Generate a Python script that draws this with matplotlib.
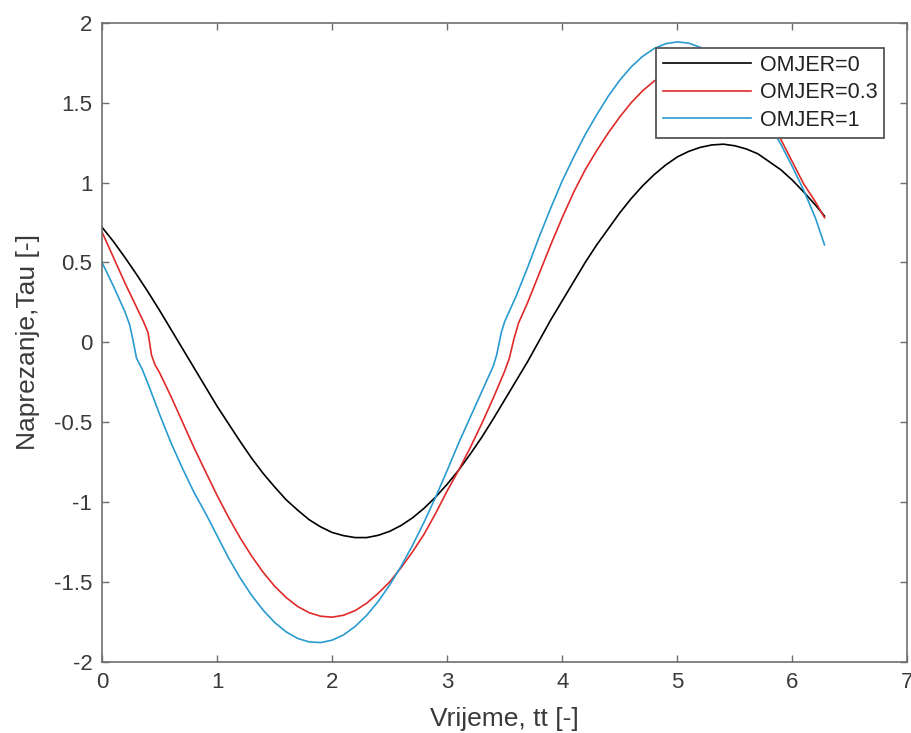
import numpy as np
import matplotlib
matplotlib.use("Agg")
import matplotlib.pyplot as plt

plt.rcParams['font.family'] = ['Liberation Sans', 'DejaVu Sans']

# OMJER=0 (black)
x0 = [0.0, 0.1, 0.2, 0.3, 0.4, 0.5, 0.6, 0.7, 0.8, 0.9, 1.0, 1.1, 1.2, 1.3, 1.4, 1.5,
      1.6, 1.7, 1.8, 1.9, 2.0, 2.1, 2.2, 2.3, 2.4, 2.5, 2.6, 2.7, 2.8, 2.9, 3.0, 3.1,
      3.2, 3.3, 3.4, 3.5, 3.6, 3.7, 3.8, 3.9, 4.0, 4.1, 4.2, 4.3, 4.4, 4.5, 4.6, 4.7,
      4.8, 4.9, 5.0, 5.1, 5.2, 5.3, 5.4, 5.5, 5.6, 5.7, 5.8, 5.9, 6.0, 6.1, 6.2, 6.28]
y0 = [0.72, 0.63, 0.53, 0.425, 0.315, 0.20, 0.08, -0.04, -0.16, -0.28, -0.40, -0.51,
      -0.62, -0.725, -0.82, -0.905, -0.985, -1.05, -1.11, -1.155, -1.19, -1.21, -1.222,
      -1.222, -1.208, -1.183, -1.146, -1.098, -1.038, -0.968, -0.888, -0.80, -0.70,
      -0.595, -0.48, -0.36, -0.24, -0.12, 0.01, 0.14, 0.26, 0.38, 0.50, 0.61, 0.71,
      0.81, 0.90, 0.98, 1.05, 1.11, 1.16, 1.195, 1.22, 1.235, 1.24, 1.23, 1.21, 1.18,
      1.13, 1.08, 1.015, 0.94, 0.86, 0.79]

# OMJER=0.3 (red)
x03 = [0.0, 0.1, 0.2, 0.3, 0.36, 0.40, 0.43, 0.46, 0.5, 0.6, 0.7, 0.8, 0.9, 1.0, 1.1,
       1.2, 1.3, 1.4, 1.5, 1.6, 1.7, 1.8, 1.9, 2.0, 2.1, 2.2, 2.3, 2.4, 2.5, 2.6, 2.7,
       2.8, 2.9, 3.0, 3.1, 3.2, 3.3, 3.4, 3.5, 3.54, 3.58, 3.62, 3.7, 3.8, 3.9, 4.0,
       4.1, 4.2, 4.3, 4.4, 4.5, 4.6, 4.7, 4.8, 4.9, 5.0, 5.1, 5.2, 5.3, 5.4, 5.5, 5.6,
       5.7, 5.8, 5.9, 6.0, 6.1, 6.2, 6.28]
y03 = [0.69, 0.53, 0.37, 0.22, 0.13, 0.06, -0.08, -0.14, -0.19, -0.34, -0.50, -0.66,
       -0.81, -0.958, -1.096, -1.223, -1.337, -1.439, -1.526, -1.597, -1.653, -1.692,
       -1.714, -1.72, -1.708, -1.679, -1.633, -1.571, -1.50, -1.41, -1.31, -1.20,
       -1.07, -0.93, -0.80, -0.66, -0.51, -0.35, -0.18, -0.10, 0.02, 0.12, 0.25, 0.43,
       0.61, 0.78, 0.94, 1.08, 1.20, 1.31, 1.41, 1.50, 1.575, 1.635, 1.68, 1.708, 1.72,
       1.714, 1.695, 1.66, 1.61, 1.545, 1.47, 1.38, 1.27, 1.13, 0.99, 0.88, 0.78]

# OMJER=1 (blue)
x1 = [0.0, 0.1, 0.2, 0.24, 0.27, 0.30, 0.35, 0.4, 0.5, 0.6, 0.7, 0.8, 0.9, 1.0, 1.1,
      1.2, 1.3, 1.4, 1.5, 1.6, 1.7, 1.8, 1.9, 2.0, 2.1, 2.2, 2.3, 2.4, 2.5, 2.6, 2.7,
      2.8, 2.9, 3.0, 3.1, 3.2, 3.3, 3.4, 3.43, 3.47, 3.5, 3.6, 3.7, 3.8, 3.9, 4.0,
      4.1, 4.2, 4.3, 4.4, 4.5, 4.6, 4.7, 4.8, 4.9, 5.0, 5.1, 5.2, 5.3, 5.4, 5.5, 5.6,
      5.7, 5.8, 5.9, 6.0, 6.1, 6.2, 6.28]
y1 = [0.50, 0.35, 0.19, 0.11, 0.01, -0.10, -0.17, -0.26, -0.45, -0.63, -0.79, -0.94,
      -1.07, -1.21, -1.35, -1.474, -1.583, -1.676, -1.753, -1.812, -1.853, -1.875,
      -1.879, -1.864, -1.831, -1.778, -1.709, -1.622, -1.519, -1.401, -1.269, -1.124,
      -0.968, -0.802, -0.63, -0.47, -0.31, -0.15, -0.08, 0.06, 0.13, 0.29, 0.47, 0.66,
      0.84, 1.01, 1.16, 1.30, 1.424, 1.54, 1.64, 1.724, 1.79, 1.839, 1.869, 1.88, 1.872,
      1.846, 1.80, 1.74, 1.665, 1.575, 1.475, 1.365, 1.24, 1.10, 0.95, 0.78, 0.61]

labels = ['OMJER=0', 'OMJER=0.3', 'OMJER=1']

fig = plt.figure(figsize=(9.11, 7.33), dpi=100)
ax = fig.add_axes([0.112, 0.097, 0.884, 0.872])

ax.plot(x0, y0, color='black', lw=1.2, label=labels[0])
ax.plot(x03, y03, color='#e02a2a', lw=1.2, label=labels[1])
ax.plot(x1, y1, color='#2a9bd0', lw=1.2, label=labels[2])

ax.set_xlim(0, 7)
ax.set_ylim(-2, 2)
ax.set_xticks(range(0, 8))
ax.set_yticks(np.arange(-2, 2.01, 0.5))
ax.set_yticklabels(['-2', '-1.5', '-1', '-0.5', '0', '0.5', '1', '1.5', '2'])

for s in ax.spines.values():
    s.set_color('#6e6e6e')
    s.set_linewidth(1.2)
ax.tick_params(direction='in', top=True, right=True, length=5, width=1,
               color='#6e6e6e', labelsize=16, labelcolor='#3a3a3a', pad=7)

ax.set_xlabel('Vrijeme, tt [-]', fontsize=19, color='#3a3a3a', labelpad=10)
ax.set_ylabel('Naprezanje,Tau [-]', fontsize=19, color='#3a3a3a', labelpad=10)

leg = ax.legend(loc='upper left', bbox_to_anchor=(656 / 911, 1 - 48 / 733),
                bbox_transform=fig.transFigure, fontsize=15.5, frameon=True,
                fancybox=False, framealpha=1, handlelength=4.1, handletextpad=0.4,
                borderpad=0.32, labelspacing=0.3, borderaxespad=0)
leg.get_frame().set_edgecolor('#555555')
leg.get_frame().set_linewidth(1.3)
leg.set_zorder(10)
for t in leg.get_texts():
    t.set_color('#222222')

plt.savefig('out.png', dpi=100)
